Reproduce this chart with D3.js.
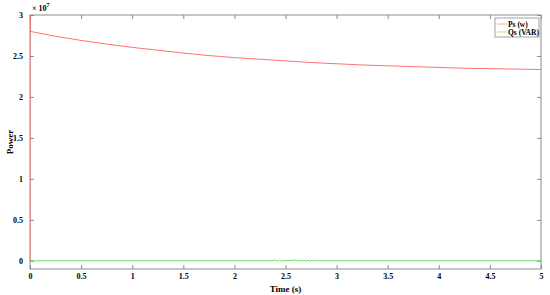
<!DOCTYPE html>
<html>
<head>
<meta charset="utf-8">
<script src="https://cdn.jsdelivr.net/npm/d3@7"></script>
<style>
body { margin: 0; background: #fff; }
text { font-family: "Liberation Serif", "Times New Roman", serif; font-weight: bold; }
</style>
</head>
<body>
<svg id="chart"></svg>
<script>
/* ---------- size ---------- */
var WIDTH = 550, HEIGHT = 295;
var margin = {left: 30, right: 9, top: 15, bottom: 26};

/* ---------- data ---------- */
var xTicks = [0, 0.5, 1, 1.5, 2, 2.5, 3, 3.5, 4, 4.5, 5];
var yTicks = [0, 0.5e7, 1e7, 1.5e7, 2e7, 2.5e7, 3e7];
var yTickLabels = ["0", "0.5", "1", "1.5", "2", "2.5", "3"];
var seriesNames = ["Ps (w)", "Qs (VAR)"];
var seriesColors = ["#ff4d4d", "#4dd24d"];

var psTime = [0, 0, 0.001, 0.25, 0.5, 0.75, 1, 1.25, 1.5, 1.75, 2, 2.25, 2.5, 2.75, 3, 3.25, 3.5, 3.75, 4, 4.25, 4.5, 4.75, 5];
var psValue = [0, 3.3e7, 2.80e7, 2.74e7, 2.69e7, 2.645e7, 2.605e7, 2.57e7, 2.535e7, 2.505e7, 2.48e7, 2.46e7, 2.44e7, 2.42e7, 2.405e7, 2.39e7, 2.38e7, 2.37e7, 2.36e7, 2.35e7, 2.345e7, 2.34e7, 2.335e7];

var qsTime = [0, 0.5, 1, 1.5, 2, 2.35, 2.4, 2.42, 2.44, 2.46, 2.48, 2.6, 2.62, 2.64, 2.66, 2.68, 2.7, 2.72, 2.74, 2.76, 2.78, 2.8, 2.82, 3, 3.5, 4, 4.5, 5];
var qsValue = [0, 0, 0, 0, 0, 0, 0.008e7, -0.005e7, 0.008e7, -0.005e7, 0, 0.008e7, -0.005e7, 0.008e7, -0.005e7, 0.008e7, -0.005e7, 0.008e7, -0.005e7, 0.008e7, -0.005e7, 0.008e7, 0, 0, 0, 0, 0, 0];

/* ---------- svg ---------- */
var svg = d3.select("#chart").attr("width", WIDTH).attr("height", HEIGHT);

var x = d3.scaleLinear().domain([0, 5]).range([margin.left, WIDTH - margin.right]);
var y = d3.scaleLinear().domain([-0.1e7, 3e7]).range([HEIGHT - margin.bottom, margin.top]);

svg.append("defs").append("clipPath").attr("id", "plotClip")
  .append("rect")
    .attr("x", x(0)).attr("y", y(3e7))
    .attr("width", x(5) - x(0)).attr("height", y(-0.1e7) - y(3e7));

var axisColor = "#8c8c8c";

// box
svg.append("rect")
    .attr("x", x(0)).attr("y", y(3e7))
    .attr("width", x(5) - x(0)).attr("height", y(-0.1e7) - y(3e7))
    .attr("fill", "none").attr("stroke", axisColor).attr("stroke-width", 1);

function styleAxis(g) {
  g.select(".domain").remove();
  g.selectAll("line").attr("stroke", axisColor);
  g.selectAll("text").attr("fill", "#000").attr("font-size", "8px")
    .attr("font-family", "Liberation Serif, serif").attr("font-weight", "bold");
}

svg.append("g").attr("transform", "translate(0," + y(-0.1e7) + ")")
  .call(d3.axisBottom(x).tickValues(xTicks).tickSizeInner(-4).tickSizeOuter(0).tickPadding(4).tickFormat(d3.format("")))
  .call(styleAxis);
svg.append("g").attr("transform", "translate(0," + y(3e7) + ")")
  .call(d3.axisTop(x).tickValues(xTicks).tickSizeInner(-4).tickSizeOuter(0).tickFormat(""))
  .call(styleAxis);
svg.append("g").attr("transform", "translate(" + x(0) + ",0)")
  .call(d3.axisLeft(y).tickValues(yTicks).tickSizeInner(-4).tickSizeOuter(0).tickPadding(7)
    .tickFormat(function(d, i) { return yTickLabels[i]; }))
  .call(styleAxis);
svg.append("g").attr("transform", "translate(" + x(5) + ",0)")
  .call(d3.axisRight(y).tickValues(yTicks).tickSizeInner(-4).tickSizeOuter(0).tickFormat(""))
  .call(styleAxis);

/* ---------- lines ---------- */
var line = d3.line().x(function(d) { return x(d[0]); }).y(function(d) { return y(d[1]); });
var plot = svg.append("g").attr("clip-path", "url(#plotClip)");

plot.append("path")
    .datum(qsTime.map(function(t, i) { return [t, qsValue[i]]; }))
    .attr("d", line).attr("fill", "none")
    .attr("stroke", seriesColors[1]).attr("stroke-opacity", 0.8).attr("stroke-width", 1);

plot.append("path")
    .datum(psTime.map(function(t, i) { return [t, psValue[i]]; }))
    .attr("d", line).attr("fill", "none")
    .attr("stroke", seriesColors[0]).attr("stroke-opacity", 0.8).attr("stroke-width", 1);

/* ---------- labels ---------- */
svg.append("text").attr("x", x(0) + 2).attr("y", y(3e7) - 4)
    .attr("font-size", "8px").attr("font-weight", "normal")
    .html('\u00d7 10<tspan dy="-4" font-size="6px">7</tspan>');

svg.append("text").attr("x", (x(0) + x(5)) / 2).attr("y", HEIGHT - 3)
    .attr("text-anchor", "middle").attr("font-size", "9px").text("Time (s)");

svg.append("text")
    .attr("transform", "translate(13," + ((y(3e7) + y(-0.1e7)) / 2) + ") rotate(-90)")
    .attr("text-anchor", "middle").attr("font-size", "9px").text("Power");

/* ---------- legend ---------- */
var lg = svg.append("g").attr("transform", "translate(495,18)");
lg.append("rect").attr("width", 44).attr("height", 19)
    .attr("fill", "#fff").attr("stroke", axisColor).attr("stroke-width", 0.8);
seriesNames.forEach(function(name, i) {
  lg.append("line").attr("x1", 2).attr("x2", 12).attr("y1", 6 + i * 8).attr("y2", 6 + i * 8)
      .attr("stroke", seriesColors[i]).attr("stroke-opacity", 0.5).attr("stroke-width", 1);
  lg.append("text").attr("x", 13).attr("y", 8.5 + i * 8).attr("font-size", "7.5px").text(name);
});
</script>
</body>
</html>
